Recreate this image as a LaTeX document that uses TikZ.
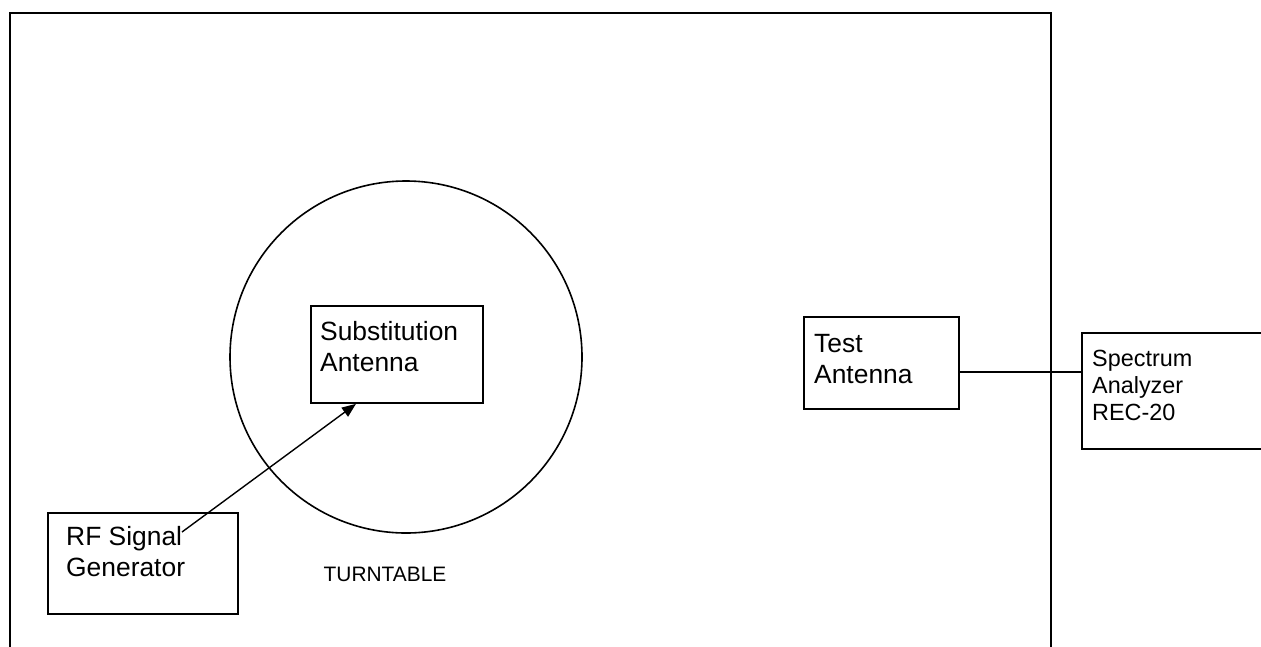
\documentclass[tikz,border=0pt]{standalone}
\usepackage{fontspec}
\setmainfont{Liberation Sans}
\usetikzlibrary{arrows.meta}
\begin{document}
\begin{tikzpicture}[x=1pt,y=-1pt,
  box/.style={draw,line width=1.9pt,inner sep=0pt,anchor=north west},
  lbl/.style={inner sep=0pt,anchor=base west,align=left,font=\fontsize{26.4}{31}\selectfont},
  small/.style={inner sep=0pt,anchor=base west,align=left,font=\fontsize{23.4}{27}\selectfont}]
\useasboundingbox (0,0) rectangle (1261,646);
\clip (0,0) rectangle (1261,646);
\fill[white] (0,0) rectangle (1261,646);
% room
\draw[line width=2.4pt] (10,650) -- (10,13) -- (1051,13) -- (1051,650);
% turntable
\node[circle,draw,line width=1.6pt,minimum size=352pt,inner sep=0pt] (tt) at (406,357) {};
% boxes
\node[box,minimum width=172pt,minimum height=97pt] (sub) at (310,305) {};
\node[box,minimum width=190pt,minimum height=101pt] (rf) at (47,512) {};
\node[box,minimum width=155pt,minimum height=92pt] (test) at (803,316) {};
\node[box,minimum width=250pt,minimum height=116pt] (spec) at (1081,332) {};
% texts
\node[lbl] (subt) at (320,371) {Substitution\\Antenna};
\node[lbl] (rft) at (66,576) {RF Signal\\Generator};
\node[lbl] (testt) at (814,383) {Test\\Antenna};
\node[small] (spect) at (1092,420) {Spectrum\\Analyzer\\REC-20};
\node[inner sep=0pt,anchor=base west,font=\fontsize{20.9}{24}\selectfont] (ttt) at (323.5,581) {TURNTABLE};
% connectors
\coordinate (rfp) at (182,532);
\draw[line width=1.4pt,-{Triangle[length=14pt,width=11pt]}] (rfp) -- ([xshift=-41pt]sub.south);
\draw[line width=1.6pt] ([yshift=-9pt]test.east) coordinate (t1) -- (t1 -| spec.west);
\end{tikzpicture}
\end{document}
